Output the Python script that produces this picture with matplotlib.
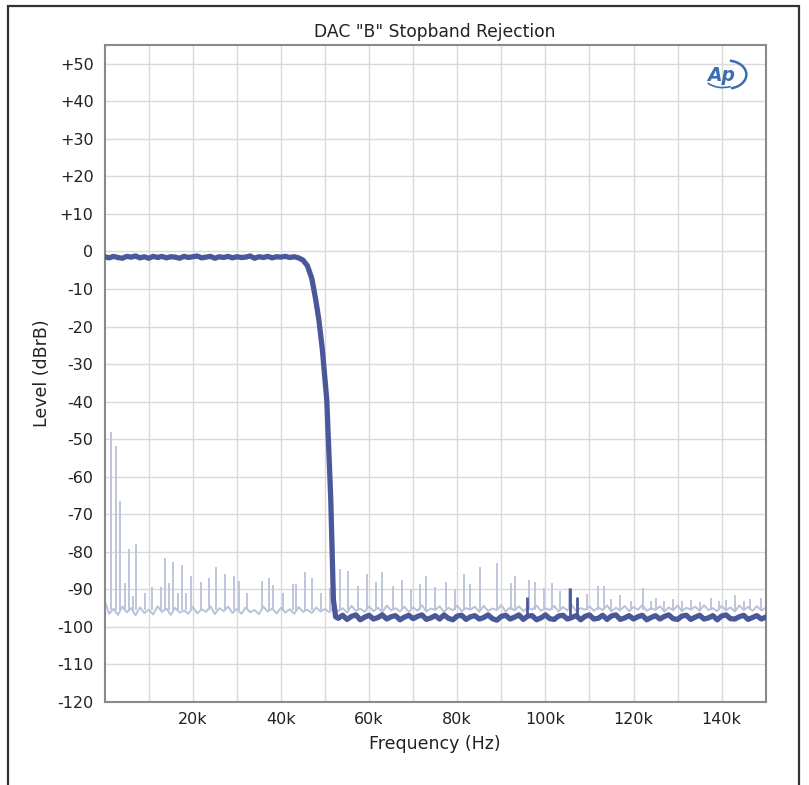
import matplotlib
matplotlib.use("Agg")
import matplotlib.pyplot as plt
from matplotlib.patches import Rectangle, Arc
from matplotlib.ticker import FixedLocator, FuncFormatter

# ---------------- data ----------------
title = 'DAC "B" Stopband Rejection'
x_label = "Frequency (Hz)"
y_label = "Level (dBrB)"
x_ticks = [20000, 40000, 60000, 80000, 100000, 120000, 140000]
x_tick_labels = ["20k", "40k", "60k", "80k", "100k", "120k", "140k"]
y_ticks = list(range(-120, 60, 10))

# dark trace (filter response): passband every 1 kHz, roll-off, stopband every 1 kHz
pass_freq = list(range(0, 45000, 1000))
pass_level = [-1.4, -1.7, -1.3, -1.6, -1.8, -1.3, -1.5, -1.2, -1.7, -1.4,
              -1.8, -1.3, -1.6, -1.3, -1.7, -1.4, -1.5, -1.8, -1.3, -1.6,
              -1.4, -1.2, -1.7, -1.5, -1.3, -1.8, -1.4, -1.6, -1.3, -1.7,
              -1.4, -1.6, -1.5, -1.2, -1.8, -1.4, -1.6, -1.3, -1.7, -1.4,
              -1.5, -1.3, -1.6, -1.4, -1.7]
rolloff_freq = [45000, 46000, 47000, 47900, 48600, 49400, 50400, 51300, 51900, 52400]
rolloff_level = [-2.3, -3.8, -7.2, -12.9, -18.2, -26.2, -39.6, -66.0, -92.8, -97.3]
stop_freq = list(range(53000, 151000, 1000))
stop_level = [-97.7, -96.9, -98.0, -97.2, -96.8, -98.1, -97.4, -96.9, -97.9, -97.5,
              -96.8, -97.9, -97.3, -97.0, -98.1, -97.4, -96.9, -97.8, -97.2, -96.8,
              -98.0, -97.6, -97.0, -97.9, -96.8, -97.7, -98.1, -97.1, -96.9, -98.0,
              -97.3, -97.0, -97.9, -97.5, -96.8, -97.8, -98.2, -97.2, -96.9, -97.9,
              -97.4, -96.8, -98.0, -97.1, -97.0, -98.1, -97.6, -96.8, -97.8, -98.0,
              -97.1, -96.9, -97.9, -97.5, -97.0, -98.1, -97.2, -96.8, -97.9, -97.7,
              -96.9, -98.0, -97.1, -96.8, -98.0, -97.6, -97.0, -97.9, -97.3, -96.9,
              -98.1, -97.5, -97.0, -97.9, -97.2, -96.8, -97.8, -98.0, -97.1, -96.9,
              -98.0, -97.4, -96.9, -97.9, -97.6, -97.0, -98.1, -97.1, -96.8, -97.8,
              -97.9, -97.3, -96.9, -98.0, -97.5, -97.0, -97.9, -97.4]
dark_spike_freq = [95800, 105500, 107100]
dark_spike_level = [-92.1, -89.6, -92.1]
dark_spike_base = -97.3

# light trace (residual spectrum): floor every 1 kHz plus discrete spurs
light_floor_freq = list(range(0, 151000, 1000))
light_floor_level = [
    -93.0, -96.5, -95.2, -96.8, -94.6, -96.1, -95.0, -96.9, -94.8, -96.3,
    -95.4, -96.7, -94.5, -96.0, -95.1, -96.8, -94.9, -96.2, -95.6, -96.5,
    -94.7, -96.4, -95.3, -96.0, -94.5, -96.6, -95.0, -95.8, -94.6, -96.3,
    -95.2, -96.5, -94.8, -96.1, -95.5, -96.6, -94.6, -95.9, -95.1, -96.4,
    -94.9, -96.2, -95.3, -96.5, -94.7, -96.0, -95.4, -96.3, -94.8, -95.9,
    -95.2, -96.1, -94.6, -95.8, -95.0, -96.2, -94.4, -95.7, -95.1, -96.0,
    -94.5, -95.8, -94.9, -96.1, -94.3, -95.6, -95.0, -95.9, -94.6, -96.0,
    -94.8, -95.7, -94.2, -95.9, -95.1, -95.5, -94.5, -96.0, -94.9, -95.6,
    -94.3, -95.8, -95.0, -95.4, -94.6, -96.0, -94.4, -95.7, -95.1, -95.5,
    -94.2, -95.9, -94.8, -95.6, -94.5, -95.8, -94.9, -95.4, -94.3, -95.7,
    -95.0, -95.5, -94.4, -95.9, -94.7, -95.6, -94.2, -95.8, -95.0, -95.4,
    -94.5, -95.7, -94.8, -95.5, -94.3, -95.9, -94.9, -95.6, -94.4, -95.8,
    -94.7, -95.4, -94.2, -95.7, -95.0, -95.5, -94.5, -95.9, -94.8, -95.6,
    -94.3, -95.8, -94.9, -95.4, -94.6, -95.7, -94.2, -95.5, -95.0, -95.8,
    -94.4, -95.6, -94.8, -95.9, -94.3, -95.5, -94.7, -95.7, -94.5, -95.6,
    -94.9]
light_spike_freq = [
    1400, 2650, 3400, 4700, 5500, 6400, 7200, 9200, 10700, 12800,
    13600, 14500, 15500, 16600, 17600, 18500, 19600, 21900, 23600, 25300,
    27300, 29400, 30500, 32400, 35800, 37300, 38300, 40400, 42800, 43400,
    45400, 47100, 49000, 51100, 53400, 55200, 57500, 59500, 61500, 63000,
    65500, 67500, 69500, 71500, 73000, 75000, 77500, 79500, 81500, 83000,
    85200, 89100, 92200, 93100, 96300, 97600, 99700, 101600, 103300, 105400,
    109500, 112000, 113300, 115000, 117000, 119500, 122100, 124000, 125200, 127000,
    129000, 131000, 133100, 135000, 137500, 139500, 141000, 143100, 145000, 146500,
    148900]
light_spike_level = [
    -48.0, -51.9, -66.5, -88.4, -79.3, -91.8, -77.9, -90.9, -89.3, -89.3,
    -81.6, -88.4, -82.6, -90.9, -83.5, -90.9, -86.4, -88.0, -86.9, -84.0,
    -85.9, -86.4, -87.9, -91.0, -87.9, -86.9, -88.8, -91.0, -88.6, -88.6,
    -85.5, -86.9, -91.0, -89.6, -84.5, -85.2, -89.0, -86.0, -88.0, -85.5,
    -89.0, -87.5, -90.0, -88.5, -86.5, -89.5, -88.0, -90.0, -86.0, -88.5,
    -84.0, -83.0, -88.2, -86.4, -87.4, -88.0, -89.6, -88.2, -90.5, -89.6,
    -91.3, -89.2, -89.2, -92.5, -91.5, -93.0, -89.6, -93.0, -92.4, -93.2,
    -92.5, -93.0, -92.9, -93.3, -92.2, -93.0, -92.8, -91.4, -93.0, -92.6,
    -92.2]
light_spike_base = -95.5

# ---------------- figure ----------------
plt.rcParams['font.family'] = ['DejaVu Sans']
W, H = 809, 785
fig = plt.figure(figsize=(W / 100, H / 100), dpi=100)
fig.patch.set_facecolor("white")

# outer frame
fig.add_artist(Rectangle((8 / W, -0.05), (799 - 8) / W, 1.05 - 6 / H,
                         transform=fig.transFigure, fill=False,
                         edgecolor="#333333", linewidth=1.6))

ax = fig.add_axes([104.7 / W, 1 - 702 / H, (765.7 - 104.7) / W, (702 - 45) / H])
ax.set_xlim(0, 150000)
ax.set_ylim(-120, 55)

light_c = "#bac2da"
dark_c = "#4a5899"

ax.plot(light_floor_freq, light_floor_level, color=light_c, lw=1.4, zorder=2)
ax.vlines(light_spike_freq, light_spike_base, light_spike_level, color=light_c,
          lw=1.3, zorder=2)
ax.plot(pass_freq + rolloff_freq + stop_freq, pass_level + rolloff_level + stop_level,
        color=dark_c, lw=3.8, zorder=3, solid_joinstyle="round")
ax.vlines(dark_spike_freq, dark_spike_base, dark_spike_level, color=dark_c,
          lw=2.0, zorder=3)

ax.xaxis.set_major_locator(FixedLocator(x_ticks))
ax.set_xticklabels(x_tick_labels)
ax.xaxis.set_minor_locator(FixedLocator(list(range(10000, 150000, 20000))))
ax.yaxis.set_major_locator(FixedLocator(y_ticks))
ax.yaxis.set_major_formatter(FuncFormatter(lambda v, p: f"+{int(v)}" if v > 0 else f"{int(v)}"))

ax.grid(True, which="both", color="#d9d9d9", lw=1.0)
ax.set_axisbelow(True)
ax.tick_params(which="both", length=0, labelsize=11.5, colors="#222222")
ax.tick_params(axis="y", pad=8)
ax.tick_params(axis="x", pad=7)
for s in ax.spines.values():
    s.set_color("#8a8a8a")
    s.set_linewidth(1.5)

fig.text((104.7 + 765.7) / 2 / W, 1 - 32 / H, title, fontsize=12.3, color="#222222",
         ha="center", va="center")
ax.set_xlabel(x_label, fontsize=12.5, color="#222222")
ax.xaxis.set_label_coords(0.5, (702 - 735) / 657)
ax.set_ylabel(y_label, fontsize=12.5, color="#222222")
ax.yaxis.set_label_coords((51 - 104.7) / 661, 0.5)

# AP logo
logo_c = "#3d6db0"
ax.text(0.932, 0.954, "Ap", transform=ax.transAxes, fontsize=13.5, fontweight="bold",
        fontstyle="italic", color=logo_c, ha="center", va="center")
ax.add_patch(Arc((0.942, 0.955), 38 / 661, 28 / 657, theta1=-75, theta2=80,
                 transform=ax.transAxes, color=logo_c, lw=1.8))
ax.add_patch(Arc((0.935, 0.958), 42 / 661, 30 / 657, theta1=215, theta2=300,
                 transform=ax.transAxes, color=logo_c, lw=1.2))

fig.savefig("out.png", dpi=100)
